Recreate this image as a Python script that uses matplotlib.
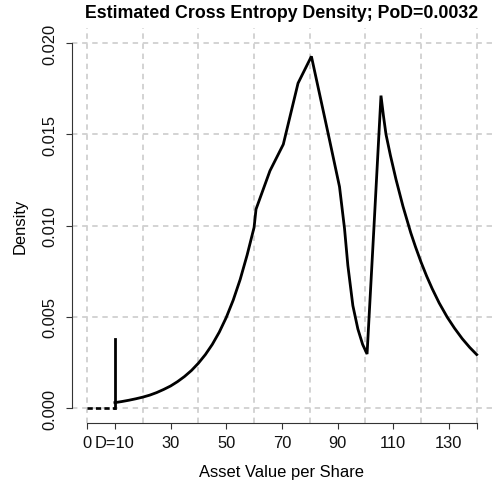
import matplotlib
matplotlib.use("Agg")
import matplotlib.pyplot as plt

# ---- data ----
curve_x = [10, 12.5, 15, 17.5, 20, 22.5, 25, 27.5, 30, 32.5, 35, 37.5, 40, 42.5, 45,
           47.5, 50, 52.5, 55, 57.5, 60, 60.7, 65.7, 70.5, 75.8, 80.6, 85.4, 87.1,
           90.7, 92.5, 93.7, 95.5, 97.3, 99.0, 100.6, 103.0, 105.6, 106.5, 107.4, 109,
           111, 113.5, 116.3, 118, 120, 122, 124, 126.5, 129.4, 132, 134.8, 137.5, 140]
curve_y = [0.00031, 0.00037, 0.00044, 0.00052, 0.00061, 0.00072, 0.00086, 0.00103,
           0.00122, 0.00146, 0.00174, 0.00207, 0.00247, 0.00294, 0.00350, 0.00417,
           0.00497, 0.00592, 0.00705, 0.00839, 0.00990, 0.01090, 0.01300, 0.01445,
           0.01780, 0.01927, 0.01590, 0.01470, 0.01213, 0.00984, 0.00782, 0.00562,
           0.00434, 0.00350, 0.00297, 0.00970, 0.01712, 0.01600, 0.01500, 0.01384,
           0.01253, 0.01106, 0.00961, 0.00884, 0.00800, 0.00724, 0.00655, 0.00577,
           0.00499, 0.00439, 0.00381, 0.00333, 0.00294]
below_x = [0, 10]
below_y = [0, 0]
spike_x = [10, 10]
spike_y = [0, 0.0038]

xtick_pos = [0, 10, 30, 50, 70, 90, 110, 130, 140]
xtick_lab = ["0", "D=10", "30", "50", "70", "90", "110", "130", ""]
ytick_pos = [0.000, 0.005, 0.010, 0.015, 0.020]
ytick_lab = ["0.000", "0.005", "0.010", "0.015", "0.020"]
xgrid = [0, 20, 40, 60, 80, 100, 120, 140]
ygrid = [0.000, 0.005, 0.010, 0.015, 0.020]

title = "Estimated Cross Entropy Density; PoD=0.0032"
xlabel = "Asset Value per Share"
ylabel = "Density"

plt.rcParams['font.family'] = ['Liberation Sans', 'DejaVu Sans']

W, H = 492, 489
fig = plt.figure(figsize=(W / 100, H / 100), dpi=100)
left_px, right_px = 71.5, 492.3
top_px, bot_px = 29.4, 423.9
ax = fig.add_axes([left_px / W, 1 - bot_px / H, (right_px - left_px) / W, (bot_px - top_px) / H])
ax.set_xlim(-5.6, 145.6)
ax.set_ylim(-0.0008, 0.0208)

gcol = "#D0D0D0"
for gx in xgrid:
    ax.axvline(gx, color=gcol, lw=1.3, linestyle=(0, (3.0, 2.6)), zorder=1)
for gy in ygrid:
    ax.axhline(gy, color=gcol, lw=1.3, linestyle=(0, (3.0, 2.6)), zorder=1)

ax.plot(below_x, below_y, color="black", lw=1.9, linestyle=(0, (2.0, 1.2)), zorder=3)
ax.plot(spike_x, spike_y, color="black", lw=2.0, zorder=3)
ax.plot(curve_x, curve_y, color="black", lw=2.0, solid_joinstyle="miter", zorder=3)

for s in ["top", "right"]:
    ax.spines[s].set_visible(False)
ax.spines["left"].set_bounds(0, 0.02)
ax.spines["bottom"].set_bounds(0, 140)
for s in ["left", "bottom"]:
    ax.spines[s].set_linewidth(0.8)
    ax.spines[s].set_color("#333333")

ax.set_xticks(xtick_pos)
ax.set_xticklabels(xtick_lab)
ax.set_yticks(ytick_pos)
ax.set_yticklabels(ytick_lab, rotation=90, va="center")
ax.tick_params(axis="both", length=4.0, width=0.8, color="#333333", labelsize=11.9,
               labelcolor="#111111")
ax.tick_params(axis="x", pad=5)
ax.tick_params(axis="y", pad=6.5)

fig.text((left_px + right_px) / 2 / W, 1 - 14 / H, title, ha="center", va="center",
         fontsize=12.8, fontweight="bold")
fig.text((left_px + right_px) / 2 / W, 1 - 472 / H, xlabel, ha="center", va="center",
         fontsize=11.9)
fig.text(20 / W, 1 - ((top_px + bot_px) / 2) / H, ylabel, ha="center", va="center",
         rotation=90, fontsize=11.9)

fig.savefig("out.png", dpi=100)
